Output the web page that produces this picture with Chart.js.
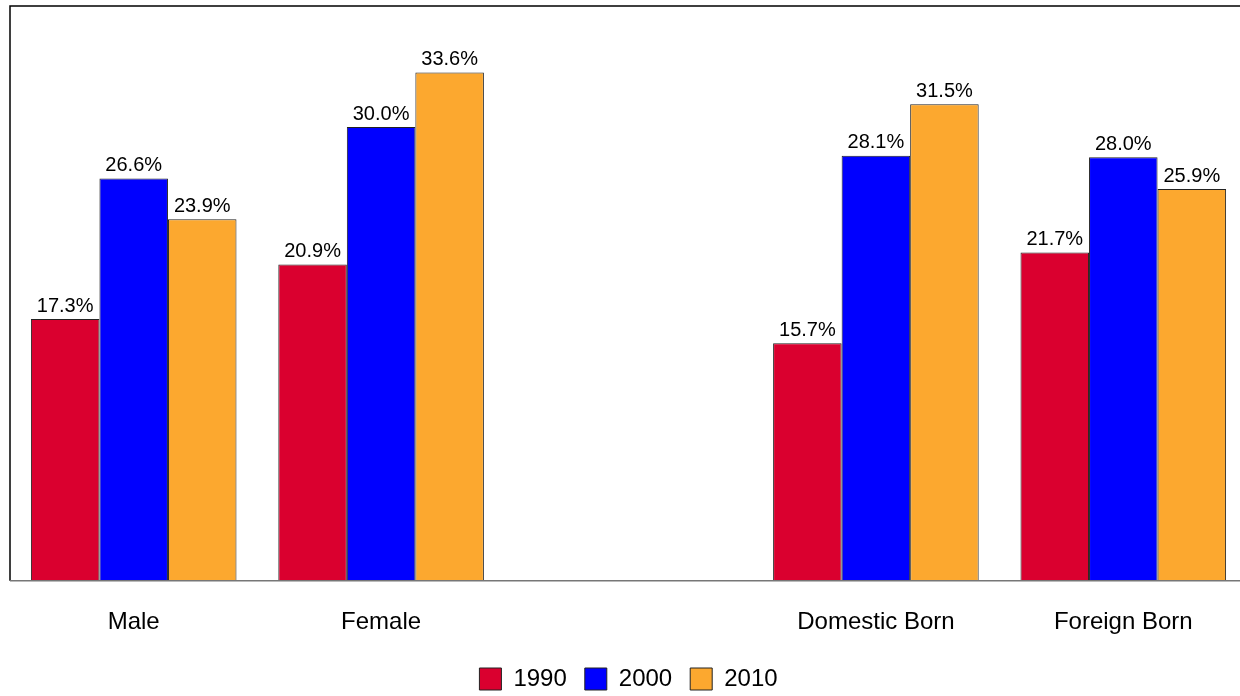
<!DOCTYPE html>
<html>
<head>
<meta charset="utf-8">
<script src="https://cdn.jsdelivr.net/npm/chart.js@4"></script>
<style>
  html, body { margin: 0; padding: 0; background: #fff; overflow: hidden; }
  #wrap { position: relative; width: 1247px; height: 696px; }
</style>
</head>
<body>
<div id="wrap"><canvas id="grafico"></canvas></div>
<script>
// categorias (a vazia faz o espaço no meio)
const categorias = ['Male', 'Female', '', 'Domestic Born', 'Foreign Born'];
const anos = ['1990', '2000', '2010'];
const valores1990 = [17.3, 20.9, null, 15.7, 21.7];
const valores2000 = [26.6, 30.0, null, 28.1, 28.0];
const valores2010 = [23.9, 33.6, null, 31.5, 25.9];
const cores = ['#DA002F', '#0000FF', '#FCA82F'];

const fonte = "'Liberation Sans', Arial, sans-serif";

// rótulos de valor em cima das barras
const rotulos = {
  id: 'rotulos',
  afterDatasetsDraw(chart) {
    const ctx = chart.ctx;
    ctx.save();
    ctx.font = '20px ' + fonte;
    ctx.fillStyle = '#000';
    ctx.textAlign = 'center';
    ctx.textBaseline = 'bottom';
    chart.data.datasets.forEach((ds, i) => {
      chart.getDatasetMeta(i).data.forEach((bar, j) => {
        const v = ds.data[j];
        if (v === null) return;
        ctx.fillText(v.toFixed(1) + '%', bar.x, bar.y - 3);
      });
    });
    ctx.restore();
  }
};

// moldura: topo e esquerda pretos, base cinza
const moldura = {
  id: 'moldura',
  afterDraw(chart) {
    const a = chart.chartArea;
    const ctx = chart.ctx;
    ctx.save();
    ctx.lineWidth = 1.5;
    ctx.strokeStyle = '#000';
    ctx.beginPath();
    ctx.moveTo(a.left, a.bottom);
    ctx.lineTo(a.left, a.top);
    ctx.lineTo(chart.width, a.top);
    ctx.stroke();
    ctx.strokeStyle = '#777';
    ctx.lineWidth = 1.5;
    ctx.beginPath();
    ctx.moveTo(a.left, a.bottom);
    ctx.lineTo(chart.width, a.bottom);
    ctx.stroke();
    ctx.restore();
  }
};

const dados = [valores1990, valores2000, valores2010];

new Chart(document.getElementById('grafico'), {
  type: 'bar',
  data: {
    labels: categorias,
    datasets: anos.map((ano, i) => ({
      label: ano,
      data: dados[i],
      backgroundColor: cores[i],
      borderColor: '#222',
      borderWidth: 1,
      categoryPercentage: 0.831,
      barPercentage: 1.0
    }))
  },
  options: {
    responsive: true,
    maintainAspectRatio: false,
    animation: false,
    layout: { padding: { top: 6, left: 10, right: 0, bottom: -5 } },
    scales: {
      y: { display: false, min: 0, max: 38 },
      x: {
        grid: { display: false },
        border: { display: false },
        ticks: { color: '#000', font: { size: 24, family: fonte }, padding: 19.5, maxRotation: 0, autoSkip: false },
        afterFit(scale) { scale.height = scale.height - 7.5; }
      }
    },
    plugins: {
      tooltip: { enabled: false },
      legend: {
        position: 'bottom',
        fullSize: false,
        labels: {
          color: '#000',
          font: { size: 24, family: fonte },
          boxWidth: 22,
          boxHeight: 22,
          padding: 18
        }
      }
    }
  },
  plugins: [rotulos, moldura]
});
</script>
</body>
</html>
